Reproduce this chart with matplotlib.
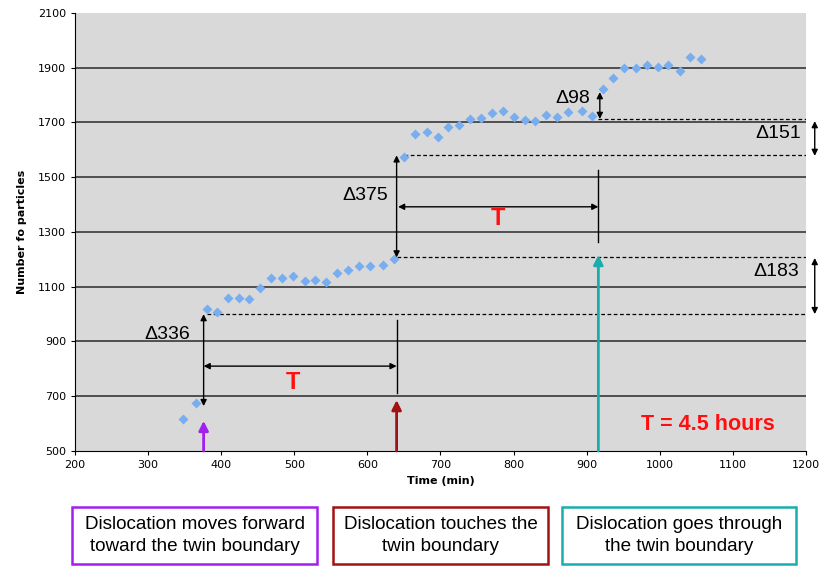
import matplotlib
matplotlib.use('Agg')
import matplotlib.pyplot as plt

time_min = [348, 365, 380, 394, 410, 424, 438, 453, 468, 483, 498, 514, 529, 543,
            558, 573, 588, 604, 621, 636, 650, 665, 681, 696, 710, 725, 740, 755,
            771, 786, 800, 815, 830, 845, 860, 875, 893, 907, 922, 936, 951, 967,
            982, 997, 1011, 1027, 1042, 1057]
particles = [617, 675, 1018, 1009, 1058, 1058, 1054, 1094, 1133, 1133, 1139, 1121,
             1125, 1116, 1151, 1160, 1176, 1176, 1179, 1201, 1573, 1657, 1664, 1647,
             1682, 1692, 1714, 1716, 1736, 1741, 1719, 1709, 1704, 1727, 1721, 1737,
             1741, 1722, 1823, 1863, 1899, 1899, 1909, 1904, 1909, 1887, 1940, 1933]

x_ticks = [200, 300, 400, 500, 600, 700, 800, 900, 1000, 1100, 1200]
y_ticks = [500, 700, 900, 1100, 1300, 1500, 1700, 1900, 2100]

# event times and levels
t_forward, t_touch, t_through = 376, 640, 916
lvl_a, lvl_b, lvl_c, lvl_d = 1000, 1207, 1580, 1713

box_texts = ['Dislocation moves forward\ntoward the twin boundary',
             'Dislocation touches the\ntwin boundary',
             'Dislocation goes through\nthe twin boundary']
box_colors = ['#A21FF0', '#A31212', '#1AADAD']

fig = plt.figure(figsize=(8.22, 5.67), dpi=100)
ax = fig.add_axes([0.0912, 0.2046, 0.8893, 0.7725])
ax.set_facecolor('#D9D9D9')
ax.set_xlim(200, 1200)
ax.set_ylim(500, 2100)
ax.set_xticks(x_ticks)
ax.set_yticks(y_ticks)
ax.tick_params(labelsize=8, length=3, direction='out')
for s in ['top', 'right']:
    ax.spines[s].set_visible(False)
for yv in y_ticks[1:-1]:
    ax.axhline(yv, color='#2a2a2a', lw=1.1, zorder=1)
ax.set_xlabel('Time (min)', fontsize=8, fontweight='bold', labelpad=4)
ax.set_ylabel('Number fo particles', fontsize=8, fontweight='bold', labelpad=8)

ax.plot(time_min, particles, 'D', color='#78AEF0', markersize=5.5, mec='none', zorder=3)

txt = dict(fontsize=14, family='Liberation Sans')
dbl = dict(arrowstyle='<|-|>', color='black', lw=1, mutation_scale=9, shrinkA=0, shrinkB=0)

# dashed level lines
for x0, lvl in [(380, lvl_a), (t_touch, lvl_b), (650, lvl_c), (t_through, lvl_d)]:
    ax.plot([x0, 1200], [lvl, lvl], '--', color='black', lw=0.9, dashes=(3, 2), zorder=2)

# delta 336
ax.annotate('', xy=(t_forward, 664), xytext=(t_forward, lvl_a), arrowprops=dbl)
ax.text(358, 927, '\u0394336', ha='right', va='center', **txt)
# T first
ax.annotate('', xy=(t_forward, 810), xytext=(t_touch, 810), arrowprops=dbl)
ax.plot([t_touch, t_touch], [712, 980], color='black', lw=1)
ax.text(498, 752, 'T', color='#FF1010', fontsize=17, fontweight='bold',
        family='Liberation Sans', ha='center', va='center')
# delta 375
ax.annotate('', xy=(t_touch, lvl_b), xytext=(t_touch, lvl_c), arrowprops=dbl)
ax.text(629, 1435, '\u0394375', ha='right', va='center', **txt)
# T second
ax.annotate('', xy=(642, 1392), xytext=(t_through, 1392), arrowprops=dbl)
ax.plot([t_through, t_through], [1265, 1526], color='black', lw=1)
ax.text(779, 1351, 'T', color='#FF1010', fontsize=17, fontweight='bold',
        family='Liberation Sans', ha='center', va='center')
# delta 98
ax.annotate('', xy=(t_through + 2, lvl_d), xytext=(t_through + 2, 1811), arrowprops=dbl)
ax.text(905, 1789, '\u039498', ha='right', va='center', **txt)
# delta 151 / 183 (outside the plot)
ax.annotate('', xy=(1212, 1705), xytext=(1212, 1578), arrowprops=dbl, annotation_clip=False)
ax.text(1193, 1658, '\u0394151', ha='right', va='center', **txt)
ax.annotate('', xy=(1212, 1205), xytext=(1212, 1000), arrowprops=dbl, annotation_clip=False)
ax.text(1190, 1154, '\u0394183', ha='right', va='center', **txt)

# coloured event arrows
for tx, top, col in [(t_forward, 610, box_colors[0]), (t_touch, 686, box_colors[1]),
                     (t_through, 1216, box_colors[2])]:
    ax.annotate('', xy=(tx, top), xytext=(tx, 500),
                arrowprops=dict(arrowstyle='-|>', color=col, lw=2, mutation_scale=14,
                                shrinkA=0, shrinkB=0), annotation_clip=False)

ax.text(1066, 597, 'T = 4.5 hours', color='#FF1010', fontsize=15.5, fontweight='bold',
        family='Liberation Sans', ha='center', va='center')

# explanation boxes
box_x = [(72, 317), (333, 548), (562, 796)]
for (x0, x1), label, col in zip(box_x, box_texts, box_colors):
    fx0, fx1 = x0 / 822, x1 / 822
    fy0, fy1 = 1 - 564 / 567, 1 - 507 / 567
    fig.patches.append(plt.Rectangle((fx0, fy0), fx1 - fx0, fy1 - fy0, fill=False,
                                     edgecolor=col, lw=1.8, transform=fig.transFigure))
    fig.text((fx0 + fx1) / 2, (fy0 + fy1) / 2, label, ha='center', va='center',
             fontsize=13.6, family='Liberation Sans', linespacing=1.38)

fig.savefig('out.png', dpi=100)
